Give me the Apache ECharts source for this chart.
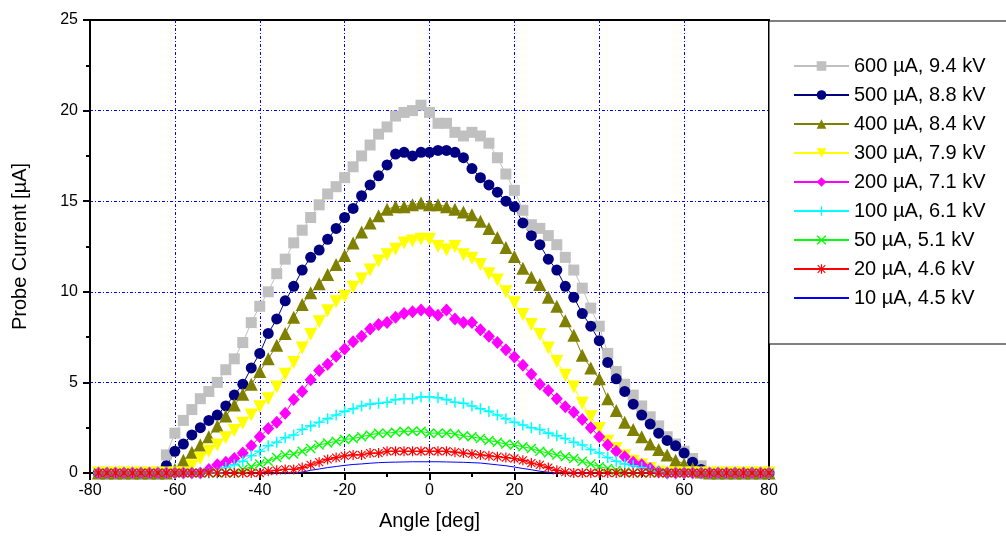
<!DOCTYPE html>
<html>
<head>
<meta charset="utf-8">
<script src="https://cdn.jsdelivr.net/npm/echarts@6/dist/echarts.min.js"></script>
<style>
  html, body { margin: 0; padding: 0; background: #fff; }
  #chart { width: 1006px; height: 536px; }
</style>
</head>
<body>
<div id="chart"></div>
<script>
var angles = [
	-78, -76, -74, -72, -70, -68, -66, -64, -62, -60,
	-58, -56, -54, -52, -50, -48, -46, -44, -42, -40,
	-38, -36, -34, -32, -30, -28, -26, -24, -22, -20,
	-18, -16, -14, -12, -10, -8, -6, -4, -2, 0,
	2, 4, 6, 8, 10, 12, 14, 16, 18, 20,
	22, 24, 26, 28, 30, 32, 34, 36, 38, 40,
	42, 44, 46, 48, 50, 52, 54, 56, 58, 60,
	62, 64, 66, 68, 70, 72, 74, 76, 78, 80
];

var names = ['600 µA, 9.4 kV', '500 µA, 8.8 kV', '400 µA, 8.4 kV', '300 µA, 7.9 kV',
	'200 µA, 7.1 kV', '100 µA, 6.1 kV', '50 µA, 5.1 kV', '20 µA, 4.6 kV', '10 µA, 4.5 kV'];

var i600 = [
	0, 0, 0, 0, 0, 0, 0, 0.05, 1.0, 2.2,
	2.9, 3.5, 4.1, 4.5, 5.0, 5.7, 6.3, 7.2, 8.3, 9.2,
	10.0, 11.0, 11.8, 12.7, 13.4, 14.1, 14.8, 15.4, 15.8, 16.3,
	16.9, 17.5, 18.1, 18.7, 19.1, 19.7, 19.9, 20.0, 20.3, 19.9,
	19.3, 19.3, 18.8, 18.6, 18.8, 18.6, 18.2, 17.4, 16.5, 15.6,
	14.5, 13.7, 13.5, 13.1, 12.6, 11.9, 11.2, 10.2, 9.1, 8.1,
	6.6, 5.6, 4.9, 4.3, 3.7, 3.1, 2.6, 2.0, 1.6, 1.2,
	0.8, 0.4, 0, 0, 0, 0, 0, 0, 0, 0
];
var i500 = [
	0, 0, 0, 0, 0, 0, 0, 0, 0.4, 1.2,
	1.6, 2.1, 2.5, 2.9, 3.2, 3.7, 4.3, 4.9, 5.8, 6.6,
	7.7, 8.5, 9.5, 10.3, 11.2, 11.9, 12.3, 12.9, 13.5, 14.1,
	14.6, 15.3, 15.9, 16.4, 17.0, 17.6, 17.7, 17.5, 17.7, 17.7,
	17.8, 17.8, 17.7, 17.4, 16.8, 16.3, 15.9, 15.5, 15.0, 14.7,
	13.8, 13.1, 12.6, 11.8, 11.2, 10.3, 9.7, 8.8, 8.1, 7.3,
	6.1, 5.2, 4.5, 3.8, 3.2, 2.7, 2.2, 1.8, 1.5, 1.1,
	0.6, 0.2, 0, 0, 0, 0, 0, 0, 0, 0
];
var i400 = [
	0, 0, 0, 0, 0, 0, 0, 0, 0, 0.2,
	0.7, 1.15, 1.55, 2.0, 2.6, 3.15, 3.75, 4.35, 4.9, 5.6,
	6.3, 7.05, 7.7, 8.6, 9.3, 9.95, 10.45, 10.95, 11.5, 12.0,
	12.7, 13.3, 13.8, 14.2, 14.55, 14.7, 14.7, 14.8, 14.9, 14.8,
	14.8, 14.7, 14.55, 14.4, 14.25, 13.9, 13.5, 13.0, 12.45, 11.95,
	11.3, 10.8, 10.4, 9.7, 9.2, 8.4, 7.6, 6.5, 5.8, 5.2,
	4.1, 3.45, 2.8, 2.4, 2.0, 1.6, 1.3, 1.0, 0.7, 0.5,
	0.25, 0.05, 0, 0, 0, 0, 0, 0, 0, 0
];
var i300 = [
	0, 0, 0, 0, 0, 0, 0, 0, 0, 0,
	0, 0.4, 0.8, 1.2, 1.55, 1.95, 2.35, 2.75, 3.2, 3.65,
	4.1, 4.75, 5.45, 6.1, 6.9, 7.65, 8.35, 8.95, 9.45, 9.75,
	10.25, 10.7, 11.2, 11.7, 12.05, 12.35, 12.7, 12.8, 12.9, 12.9,
	12.5, 12.3, 12.5, 12.05, 11.85, 11.5, 11.0, 10.65, 10.0, 9.4,
	8.75, 8.2, 7.65, 6.9, 6.15, 5.4, 4.75, 3.85, 3.1, 2.45,
	1.75, 1.35, 0.95, 0.65, 0.45, 0.25, 0.05, 0, 0, 0,
	0, 0, 0, 0, 0, 0, 0, 0, 0, 0
];
var i200 = [
	0, 0, 0, 0, 0, 0, 0, 0, 0, 0,
	0, 0, 0, 0.2, 0.45, 0.6, 0.8, 1.1, 1.5, 2.0,
	2.45, 2.8, 3.3, 4.05, 4.5, 5.15, 5.65, 6.0, 6.45, 6.85,
	7.25, 7.55, 7.95, 8.2, 8.3, 8.6, 8.8, 8.9, 9.0, 8.9,
	8.7, 9.0, 8.5, 8.3, 8.3, 7.9, 7.55, 7.2, 6.8, 6.4,
	5.95, 5.45, 4.9, 4.55, 4.1, 3.65, 3.35, 2.95, 2.5, 2.0,
	1.55, 1.2, 0.9, 0.6, 0.45, 0.25, 0.05, 0, 0, 0,
	0, 0, 0, 0, 0, 0, 0, 0, 0, 0
];
var i100 = [
	0, 0, 0, 0, 0, 0, 0, 0, 0, 0,
	0, 0, 0, 0, 0, 0.3, 0.45, 0.65, 0.95, 1.2,
	1.5, 1.7, 1.95, 2.1, 2.4, 2.6, 2.8, 3.0, 3.2, 3.4,
	3.55, 3.7, 3.8, 3.85, 3.9, 4.05, 4.1, 4.1, 4.2, 4.2,
	4.15, 4.05, 3.9, 3.85, 3.7, 3.55, 3.4, 3.2, 3.0, 2.8,
	2.65, 2.5, 2.4, 2.2, 2.05, 1.9, 1.7, 1.55, 1.3, 1.1,
	0.85, 0.65, 0.5, 0.4, 0.3, 0.15, 0.05, 0, 0, 0,
	0, 0, 0, 0, 0, 0, 0, 0, 0, 0
];
var i50 = [
	0, 0, 0, 0, 0, 0, 0, 0, 0, 0,
	0, 0, 0, 0, 0, 0, 0, 0.2, 0.35, 0.5,
	0.65, 0.85, 1.0, 1.05, 1.2, 1.35, 1.55, 1.65, 1.75, 1.85,
	1.9, 2.0, 2.1, 2.2, 2.2, 2.25, 2.3, 2.3, 2.3, 2.2,
	2.2, 2.2, 2.15, 2.05, 2.0, 1.9, 1.8, 1.7, 1.6, 1.55,
	1.45, 1.35, 1.2, 1.1, 1.0, 0.9, 0.8, 0.65, 0.5, 0.35,
	0.25, 0.15, 0.05, 0, 0, 0, 0, 0, 0, 0,
	0, 0, 0, 0, 0, 0, 0, 0, 0, 0
];
var i20 = [
	0, 0, 0, 0, 0, 0, 0, 0, 0, 0,
	0, 0, 0, 0, 0, 0, 0, 0, 0, 0,
	0.1, 0.15, 0.2, 0.2, 0.3, 0.45, 0.6, 0.75, 0.85, 0.95,
	1.0, 1.0, 1.1, 1.1, 1.2, 1.2, 1.2, 1.2, 1.2, 1.2,
	1.2, 1.2, 1.15, 1.1, 1.05, 1.0, 0.95, 0.9, 0.85, 0.8,
	0.7, 0.55, 0.45, 0.3, 0.15, 0.05, 0, 0, 0, 0,
	0, 0, 0, 0, 0, 0, 0, 0, 0, 0,
	0, 0, 0, 0, 0, 0, 0, 0, 0, 0
];
var i10 = [
	0, 0, 0, 0, 0, 0, 0, 0, 0, 0,
	0, 0, 0, 0, 0, 0, 0, 0, 0, 0,
	0, 0, 0, 0, 0.05, 0.15, 0.22, 0.3, 0.36, 0.42,
	0.47, 0.5, 0.54, 0.57, 0.59, 0.6, 0.61, 0.62, 0.62, 0.62,
	0.62, 0.61, 0.6, 0.59, 0.57, 0.55, 0.5, 0.45, 0.4, 0.33,
	0.25, 0.18, 0.1, 0.04, 0, 0, 0, 0, 0, 0,
	0, 0, 0, 0, 0, 0, 0, 0, 0, 0,
	0, 0, 0, 0, 0, 0, 0, 0, 0, 0
];

var xTicks = [-80, 80, 20];
var yTicks = [0, 25, 5];

var FONT = 'Liberation Sans, Arial, sans-serif';
var PLUS = 'path://M4.3,0H5.7V4.3H10V5.7H5.7V10H4.3V5.7H0V4.3H4.3Z';
var CROSS = 'path://M0,1L1,0L5,4L9,0L10,1L6,5L10,9L9,10L5,6L1,10L0,9L4,5Z';
var STAR = 'path://M4.4,0H5.6V10H4.4Z M0,4.4H10V5.6H0Z M0.6,1.4L1.4,0.6L9.4,8.6L8.6,9.4Z M8.6,0.6L9.4,1.4L1.4,9.4L0.6,8.6Z';
var TRI_DOWN = 'path://M0,0L10,0L5,9Z';

function pairs(vals) {
	return angles.map(function(a, i) {
		return [a, vals[i]];
	});
}

function mk(name, vals, color, symbol, size) {
	return {
		name: name,
		type: 'line',
		data: pairs(vals),
		symbol: symbol,
		symbolSize: size,
		showAllSymbol: true,
		color: color,
		itemStyle: { color: color },
		lineStyle: { color: color, width: 1 }
	};
}

var chart = echarts.init(document.getElementById('chart'));
var option = {
	animation: false,
	backgroundColor: '#fff',
	textStyle: { fontFamily: FONT },
	grid: {
		left: 90,
		right: 237,
		top: 20,
		bottom: 63,
		show: true,
		borderColor: '#000',
		borderWidth: 2
	},
	legend: {
		orient: 'vertical',
		left: 769,
		top: 21,
		padding: [35, 30, 36, 24],
		itemWidth: 55,
		itemHeight: 12,
		itemGap: 9,
		backgroundColor: '#fff',
		borderColor: '#000',
		borderWidth: 1,
		textStyle: { fontSize: 20, lineHeight: 20, color: '#000', fontFamily: FONT },
		data: names.slice(0, 8).concat([{ name: names[8], itemStyle: { opacity: 0 } }])
	},
	xAxis: {
		type: 'value',
		min: xTicks[0],
		max: xTicks[1],
		interval: xTicks[2],
		name: 'Angle [deg]',
		nameLocation: 'middle',
		nameGap: 38,
		nameTextStyle: { fontSize: 20, color: '#000', fontFamily: FONT },
		axisLine: { onZero: false, lineStyle: { color: '#000', width: 2 } },
		axisTick: { inside: false, length: 7, lineStyle: { color: '#000', width: 2 } },
		minorTick: { show: true, splitNumber: 2, length: 4, lineStyle: { color: '#000', width: 2 } },
		axisLabel: { fontSize: 16, color: '#000', margin: 10, fontFamily: FONT },
		splitLine: {
			show: true, showMinLine: false, showMaxLine: false,
			lineStyle: { color: '#0000ff', width: 1, type: [3, 2, 1, 2] }
		}
	},
	yAxis: {
		type: 'value',
		min: yTicks[0],
		max: yTicks[1],
		interval: yTicks[2],
		name: 'Probe Current [µA]',
		nameLocation: 'middle',
		nameGap: 60,
		nameTextStyle: { fontSize: 20, color: '#000', fontFamily: FONT },
		axisLine: { show: true, onZero: false, lineStyle: { color: '#000', width: 2 } },
		axisTick: { show: true, inside: false, length: 7, lineStyle: { color: '#000', width: 2 } },
		minorTick: { show: true, splitNumber: 2, length: 4, lineStyle: { color: '#000', width: 2 } },
		axisLabel: { fontSize: 16, color: '#000', margin: 12, fontFamily: FONT },
		splitLine: {
			show: true, showMinLine: false, showMaxLine: false,
			lineStyle: { color: '#0000ff', width: 1, type: [3, 2, 1, 2] }
		}
	},
	series: [
		mk(names[0], i600, '#c0c0c0', 'rect', 11),
		mk(names[1], i500, '#000080', 'circle', 11),
		mk(names[2], i400, '#808000', 'triangle', 13),
		mk(names[3], i300, '#ffff00', TRI_DOWN, 13),
		mk(names[4], i200, '#ff00ff', 'diamond', [12, 13]),
		mk(names[5], i100, '#00ffff', PLUS, 11),
		mk(names[6], i50, '#00ff00', CROSS, 10),
		mk(names[7], i20, '#ff0000', STAR, 10),
		mk(names[8], i10, '#0000ff', 'none', 0)
	]
};
chart.setOption(option);
</script>
</body>
</html>
